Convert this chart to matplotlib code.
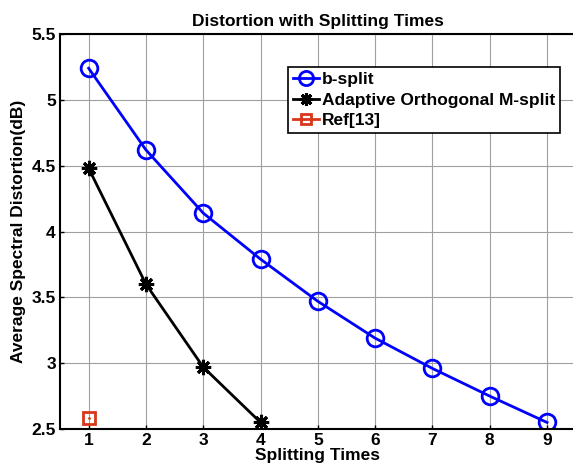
import matplotlib
matplotlib.use('Agg')
import matplotlib.pyplot as plt

plt.rcParams['font.family'] = ['Liberation Sans', 'DejaVu Sans']
plt.rcParams['font.weight'] = 'bold'

# data
splits = [1, 2, 3, 4, 5, 6, 7, 8, 9]
b_split = [5.24, 4.62, 4.14, 3.79, 3.47, 3.19, 2.96, 2.75, 2.55]
aom_splits = [1, 2, 3, 4]
aom_split = [4.48, 3.60, 2.97, 2.55]
ref_splits = [1]
ref13 = [2.58]

xticks = [1, 2, 3, 4, 5, 6, 7, 8, 9]
yticks = [2.5, 3, 3.5, 4, 4.5, 5, 5.5]
FS = 12.5

fig = plt.figure(figsize=(5.73, 4.70), dpi=100)
ax = fig.add_axes([0.1047, 0.0872, 0.9, 0.8404])

ax.plot(splits, b_split, '-o', color='#0000ff', lw=2, ms=12, mew=2,
        mfc='none', label='b-split')
ax.plot(aom_splits, aom_split, '-', color='black', lw=2, marker=(8, 2, 0),
        ms=11, mew=2.2, label='Adaptive Orthogonal M-split')
ax.plot(ref_splits, ref13, '-s', color='#d9361a', lw=2, ms=9, mew=2,
        mfc='none', label='Ref[13]')
ax.plot(ref_splits, ref13, '.', color='#d9361a', ms=2)

ax.set_xlim(0.5, 9.5)
ax.set_ylim(2.5, 5.5)
ax.set_xticks(xticks)
ax.set_yticks(yticks)
ax.set_yticklabels(['2.5', '3', '3.5', '4', '4.5', '5', '5.5'])
ax.grid(True, color='#a0a0a0', lw=0.8, ls='-')
ax.set_axisbelow(True)
ax.tick_params(direction='in', length=3, width=1, labelsize=FS, pad=3)
for s in ax.spines.values():
    s.set_linewidth(1.5)

ax.set_title('Distortion with Splitting Times', fontsize=FS, fontweight='bold', pad=6)
ax.set_xlabel('Splitting Times', fontsize=FS, fontweight='bold', labelpad=0)
ax.set_ylabel('Average Spectral Distortion(dB)', fontsize=FS, fontweight='bold', labelpad=4)

leg = ax.legend(loc='upper right', bbox_to_anchor=(0.9696, 0.9165),
                borderaxespad=0, fancybox=False, framealpha=1, edgecolor='black',
                handlelength=1.5, handletextpad=0.15, markerscale=0.85,
                labelspacing=0.3, borderpad=0.3, prop={'weight': 'bold', 'size': FS})
leg.get_frame().set_linewidth(1.2)

fig.savefig('out.png', dpi=100)
